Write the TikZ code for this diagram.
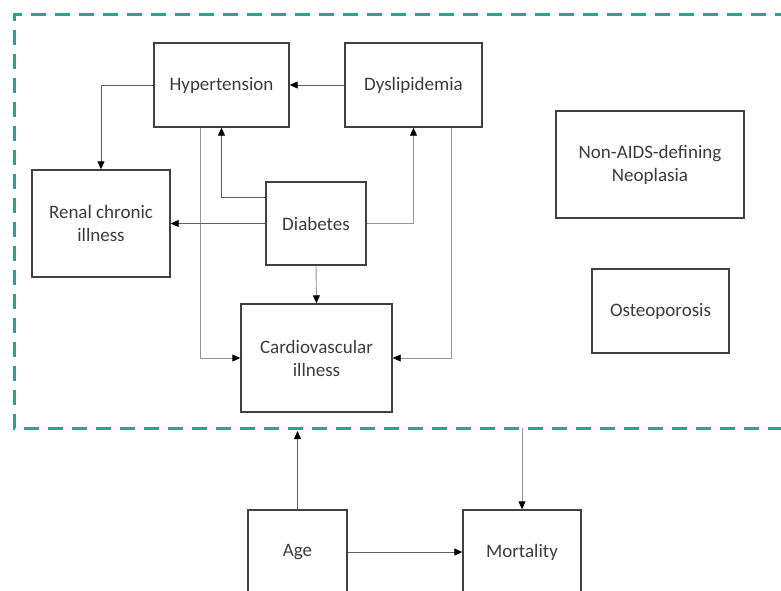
\documentclass[tikz,border=0pt]{standalone}
\usepackage{fontspec}
\setmainfont{Carlito}
\usetikzlibrary{arrows.meta}
\definecolor{teal1}{RGB}{38,165,145}
\definecolor{boxc}{RGB}{64,64,64}
\definecolor{txtc}{RGB}{60,60,60}
\definecolor{lgray}{RGB}{150,150,150}
\tikzset{
  box/.style={draw=boxc, line width=1.4pt, inner sep=0pt, align=center, text=txtc,
    font=\fontsize{19}{23}\selectfont},
  conn/.style={draw=boxc!85, line width=0.9pt, -{Triangle[length=8pt,width=7pt,color=black]}},
  connl/.style={draw=lgray, line width=0.9pt, -{Triangle[length=8pt,width=7pt,color=black]}},
  frame/.style={draw=teal1, line width=3pt, dash pattern=on 15pt off 9pt}
}
\begin{document}
\begin{tikzpicture}[x=1pt,y=-1pt]
\clip (0,0) rectangle (781,590);
\fill[white] (0,0) rectangle (781,590);
% frame
\draw[frame] (790,14) -- (14,14) -- (14,428) -- (790,428);
\coordinate (fb) at (0,428);
\coordinate (fba) at (0,431);
% boxes
\node[box, minimum width=135pt, minimum height=84pt] (hyp) at (221.5,85) {Hypertension};
\node[box, minimum width=137pt, minimum height=84pt] (dys) at (413.5,85) {Dyslipidemia};
\node[box, minimum width=138pt, minimum height=107pt] (ren) at (101,223.5) {Renal chronic\\illness};
\node[box, minimum width=100pt, minimum height=83pt] (dia) at (316,223.5) {Diabetes};
\node[box, minimum width=151pt, minimum height=108pt] (car) at (316.5,358) {Cardiovascular\\illness};
\node[box, minimum width=188pt, minimum height=107pt] (nad) at (650,164.5) {Non-AIDS-defining\\Neoplasia};
\node[box, minimum width=137pt, minimum height=84pt] (ost) at (660.5,311) {Osteoporosis};
\node[box, minimum width=99pt, minimum height=84pt] (age) at (297.5,552) {Age};
\node[box, minimum width=118pt, minimum height=84pt] (mor) at (522,552) {Mortality};
% connectors
\draw[conn] (dys.west) -- (hyp.east);
\draw[conn] (hyp.west) -| (ren.north);
\draw[connl] ([xshift=-21.5pt]hyp.south) |- (car.west);
\draw[conn] ([yshift=26.5pt]dia.west) -| (hyp.south);
\draw[conn] (dia.west) -- (ren.east);
\draw[connl] (dia.east) -| (dys.south);
\draw[connl] (dia.south) -- (car.north);
\draw[connl] ([xshift=37.5pt]dys.south) |- (car.east);
\draw[conn] (age.north) -- (age.north |- fba);
\draw[connl] (mor.north |- fb) -- (mor.north);
\draw[conn] (age.east) -- (mor.west);
\end{tikzpicture}
\end{document}
